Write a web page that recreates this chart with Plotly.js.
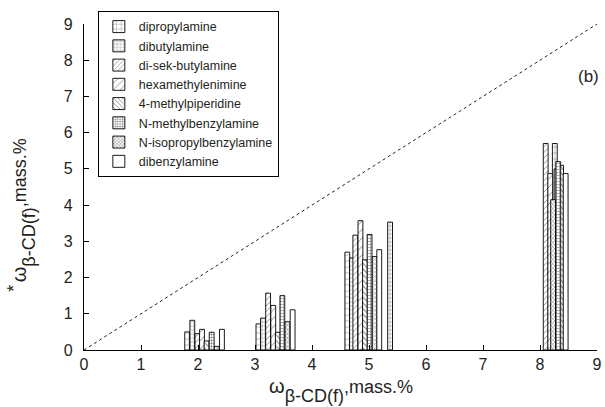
<!DOCTYPE html>
<html>
<head>
<meta charset="utf-8">
<script src="https://cdn.plot.ly/plotly-3.0.1.min.js"></script>
<style>html,body{margin:0;padding:0;background:#fff;}#chart{width:605px;height:407px;}</style>
</head>
<body>
<div id="chart"></div>
<script>
// Series names (legend order)
const seriesNames = ["dipropylamine","dibutylamine","di-sek-butylamine","hexamethylenimine","4-methylpiperidine","N-methylbenzylamine","N-isopropylbenzylamine","dibenzylamine"];

// x = ω β-CD(f), mass.% ; y = ω* β-CD(f), mass.%
const dipropylamineX = [1.81, 3.06, 4.62, 8.26];
const dipropylamineY = [0.50, 0.72, 2.70, 5.70];
const dibutylamineX = [1.90, 3.14, 4.70, 5.37, 8.29];
const dibutylamineY = [0.82, 0.88, 2.54, 3.53, 5.00];
const disekbutylamineX = [1.99, 3.23, 4.76, 8.10];
const disekbutylamineY = [0.45, 1.57, 3.17, 5.70];
const hexamethylenimineX = [2.07, 3.32, 4.85, 8.18];
const hexamethylenimineY = [0.57, 1.23, 3.57, 4.87];
const methylpiperidineX = [2.15, 3.40, 4.93, 8.37];
const methylpiperidineY = [0.25, 0.49, 2.49, 5.10];
const methylbenzylamineX = [2.24, 3.48, 5.01, 8.32];
const methylbenzylamineY = [0.49, 1.50, 3.19, 5.20];
const isopropylbenzylamineX = [2.33, 3.57, 5.10, 8.23];
const isopropylbenzylamineY = [0.10, 0.78, 2.58, 4.15];
const dibenzylamineX = [2.42, 3.66, 5.18, 8.45];
const dibenzylamineY = [0.57, 1.11, 2.77, 4.87];

const diagX = [0, 9];
const diagY = [0, 9];

const xs = [dipropylamineX, dibutylamineX, disekbutylamineX, hexamethylenimineX, methylpiperidineX, methylbenzylamineX, isopropylbenzylamineX, dibenzylamineX];
const ys = [dipropylamineY, dibutylamineY, disekbutylamineY, hexamethylenimineY, methylpiperidineY, methylbenzylamineY, isopropylbenzylamineY, dibenzylamineY];

const patterns = [
  {shape: "+", size: 6, solidity: 0.15},
  {shape: "+", size: 4, solidity: 0.2},
  {shape: "/", size: 4, solidity: 0.2},
  {shape: "/", size: 6, solidity: 0.15},
  {shape: "\\", size: 4, solidity: 0.25},
  {shape: "+", size: 3, solidity: 0.35},
  {shape: "x", size: 3, solidity: 0.35},
  {shape: "", size: 6, solidity: 0.2}
];

const traces = seriesNames.map((n, i) => ({
  type: "bar",
  name: n,
  x: xs[i],
  y: ys[i],
  width: 0.085,
  marker: {
    color: "#ffffff",
    line: {color: "#000000", width: 0.9},
    pattern: {shape: patterns[i].shape, size: patterns[i].size, solidity: patterns[i].solidity, fgcolor: "#000000", bgcolor: "#ffffff", fillmode: "overlay"}
  }
}));

traces.push({
  type: "scatter",
  mode: "lines",
  x: diagX,
  y: diagY,
  showlegend: false,
  line: {color: "#222222", width: 1, dash: "3px,3px"},
  hoverinfo: "skip"
});

const font = "Liberation Sans, Arial, sans-serif";
const titleText = "<span style='font-size:20px'>ω</span><sub><span style='font-size:18px'>β-CD(f)</span></sub><span style='font-size:18px'>,mass.%</span>";

const layout = {
  width: 605,
  height: 407,
  margin: {l: 84, r: 8, t: 24, b: 57},
  paper_bgcolor: "#ffffff",
  plot_bgcolor: "#ffffff",
  barmode: "overlay",
  bargap: 0,
  font: {family: font, color: "#231f20", size: 16},
  xaxis: {
    range: [0, 9],
    dtick: 1,
    tick0: 0,
    showgrid: false,
    zeroline: false,
    showline: true,
    linecolor: "#000000",
    linewidth: 1.2,
    ticks: "inside",
    ticklen: 5,
    tickcolor: "#000000",
    tickfont: {size: 16, family: font, color: "#231f20"}
  },
  yaxis: {
    range: [0, 9],
    dtick: 1,
    tick0: 0,
    showgrid: false,
    zeroline: false,
    showline: true,
    linecolor: "#000000",
    linewidth: 1.2,
    ticks: "inside",
    ticklen: 5,
    tickcolor: "#000000",
    ticklabelstandoff: 7,
    tickfont: {size: 16, family: font, color: "#231f20"}
  },
  legend: {
    x: 0.027,
    y: 1.04,
    xanchor: "left",
    yanchor: "top",
    bgcolor: "#ffffff",
    bordercolor: "#000000",
    borderwidth: 1,
    font: {size: 12.5, family: font, color: "#231f20"},
    itemwidth: 30,
    tracegroupgap: 0
  },
  annotations: [
    {xref: "paper", yref: "paper", x: 1.008, y: 0.84, xanchor: "right", yanchor: "middle", text: "(b)", showarrow: false, font: {size: 17, family: font, color: "#231f20"}},
    {xref: "paper", yref: "paper", x: 0.5, y: -0.125, xanchor: "center", yanchor: "middle", text: titleText, showarrow: false, font: {size: 44, family: font, color: "#231f20"}},
    {xref: "paper", yref: "paper", x: -0.118, y: 0.43, xanchor: "center", yanchor: "middle", textangle: -90, text: titleText, showarrow: false, font: {size: 44, family: font, color: "#231f20"}},
    {xref: "paper", yref: "paper", x: -0.137, y: 0.19, xanchor: "center", yanchor: "middle", textangle: -90, text: "*", showarrow: false, font: {size: 18, family: font, color: "#231f20"}}
  ],
  showlegend: true
};

Plotly.newPlot("chart", traces, layout, {displayModeBar: false, staticPlot: true});
</script>
</body>
</html>
